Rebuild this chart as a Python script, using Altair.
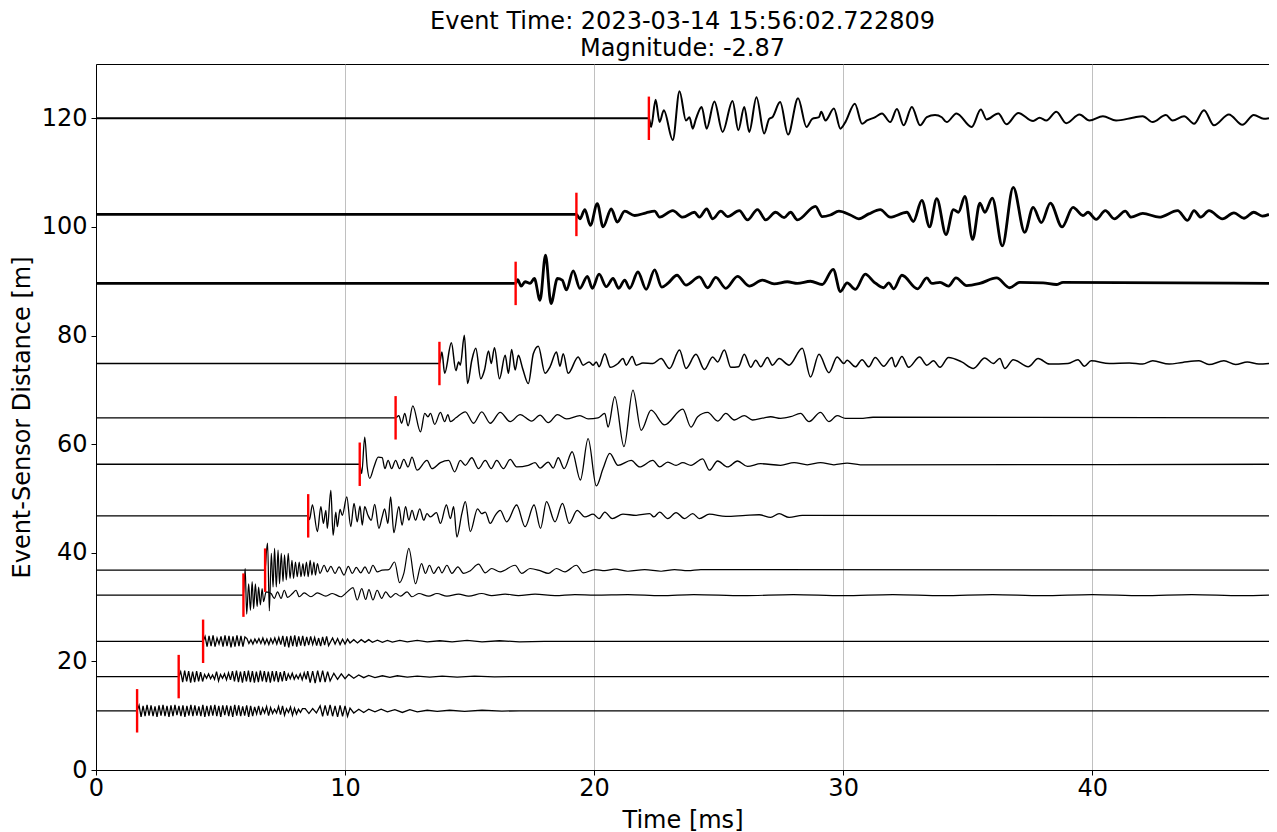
import altair as alt
import pandas as pd

TITLE = ["Event Time: 2023-03-14 15:56:02.722809", "Magnitude: -2.87"]
X_TICKS = [0, 10, 20, 30, 40]
Y_TICKS = [0, 20, 40, 60, 80, 100, 120]
T_END = 47.1
PICK_HALF = 4.0

distances = [120.0, 102.3, 89.6, 74.85, 64.85, 56.3, 46.8, 36.8, 32.2, 23.7, 17.2, 10.9]
picks = [22.20, 19.29, 16.85, 13.79, 12.03, 10.59, 8.52, 6.79, 5.92, 4.30, 3.32, 1.65]
line_widths = [2.0, 2.8, 2.8, 1.5, 1.3, 1.3, 1.3, 1.2, 1.2, 1.3, 1.3, 1.3]
smooth = [True, True, True, True, True, True, True, True, True, False, False, False]

# (time ms, amplitude offset m) extrema
tr120 = [(22.29,-1.6),(22.47,3.4),(22.63,-0.7),(22.80,1.5),(23.16,-4.0),(23.43,5.0),(23.69,-0.4),(23.83,0.2),
         (23.96,-1.9),(24.09,-0.1),(24.32,2.1),(24.52,-1.9),(24.83,3.1),(25.16,-2.5),(25.56,3.2),(25.79,-2.2),
         (26.03,2.1),(26.23,-2.5),(26.52,3.9),(26.83,-2.8),(27.03,-0.1),(27.16,0.2),(27.47,3.0),(27.79,-3.0),
         (28.19,3.7),(28.53,-1.6),(28.76,-0.1),(29.03,0.2),(29.12,1.2),(29.29,-0.4),(29.63,1.8),(29.89,-1.9),
         (30.09,-0.7),(30.47,2.7),(30.76,-1.0),(30.96,-0.4),(31.29,0.2),(31.56,0.9),(31.89,-0.7),(32.16,1.7),
         (32.43,-1.3),(32.76,2.1),(33.09,-1.3),(33.36,0.2),(33.69,0.6),(33.96,0.2),(34.16,-0.7),(34.55,0.9),
         (35.16,-1.6),(35.53,1.6),(35.76,-0.2),(36.23,0.9),(36.56,-1.1),(37.03,1.0),(37.63,-0.5),(37.89,0.1),
         (38.16,-0.4),(38.56,1.2),(38.96,-0.9),(39.49,0.7),(39.89,-0.4),(40.43,0.4),(40.96,-0.4),(41.63,0.1),
         (42.03,0.4),(42.43,-0.7),(42.96,0.6),(43.23,-0.4),(43.69,0.4),(44.09,-1.0),(44.49,1.5),(44.89,-1.3),
         (45.49,0.7),(46.03,-1.2),(46.49,0.6),(46.89,-0.1)]

tr102 = [(19.43,-0.8),(19.63,0.9),(19.85,-2.0),(20.13,2.0),(20.36,-2.3),(20.69,1.0),(20.93,-1.4),(21.23,0.6),
         (21.63,-0.2),(22.09,0.3),(22.43,0.6),(22.63,-0.5),(23.16,0.7),(23.56,-0.5),(24.03,0.4),(24.23,-0.5),
         (24.52,1.0),(24.76,-0.8),(25.09,0.6),(25.36,-0.4),(25.83,0.7),(26.16,-1.0),(26.56,0.9),(26.89,-1.0),
         (27.29,0.4),(27.63,-0.6),(27.89,0.4),(28.16,-1.0),(28.89,1.5),(29.16,-0.4),(29.49,-0.1),(29.83,0.6),
         (30.29,-0.1),(30.63,-0.8),(31.03,0.1),(31.49,0.9),(31.89,-0.5),(32.56,0.4),(32.82,-1.3),(33.16,2.6),
         (33.47,-2.3),(33.76,2.9),(34.13,-3.7),(34.43,0.9),(34.63,0.4),(34.89,3.3),(35.20,-4.6),(35.49,2.1),
         (35.69,0.4),(35.99,3.0),(36.39,-5.8),(36.83,5.0),(37.29,-3.3),(37.63,1.3),(37.96,-1.5),(38.32,2.1),
         (38.79,-2.3),(39.23,1.3),(39.63,-0.2),(39.83,0.4),(40.16,-0.9),(40.53,0.7),(40.89,-0.8),(41.33,0.6),
         (41.56,-0.5),(42.03,0.2),(42.69,-0.5),(43.43,0.7),(43.83,-1.1),(44.09,0.7),(44.36,-0.5),(44.69,0.7),
         (45.23,-0.8),(45.69,0.3),(46.09,-0.7),(46.49,0.4),(46.83,-0.3)]

tr89 = [(16.93,0.7),(17.07,-0.5),(17.23,0.3),(17.43,0.0),(17.60,0.9),(17.83,-3.1),(18.05,5.2),(18.27,-3.7),
        (18.53,0.9),(18.72,0.6),(18.89,-1.2),(19.16,2.3),(19.43,-0.9),(19.73,1.3),(19.93,-0.9),(20.20,1.7),
        (20.49,-0.6),(20.76,0.9),(20.99,-0.9),(21.23,0.6),(21.43,-0.9),(21.76,2.1),(22.09,-1.1),(22.43,2.5),
        (22.72,-0.7),(22.96,0.0),(23.33,1.5),(23.69,-0.3),(24.23,1.2),(24.56,-0.8),(24.89,1.1),(25.29,-0.9),
        (25.76,1.3),(26.23,-0.5),(26.76,0.6),(27.23,-0.1),(27.76,0.3),(28.16,0.0),(28.69,0.4),(29.16,-0.2),
        (29.60,2.6),(29.89,-1.5),(30.16,0.1),(30.49,-1.1),(30.89,1.7),(31.23,0.3),(31.63,-0.8),(31.83,0.1),
        (32.03,-1.0),(32.36,1.5),(32.99,-1.0),(33.36,1.0),(33.56,0.0),(33.89,0.2),(34.23,-0.5),(34.53,1.0),
        (34.96,-0.4),(35.49,0.0),(36.16,1.0),(36.69,-0.8),(37.09,0.2),(38.03,0.1),(38.56,-0.2),(38.83,0.2)]

tr75 = [(13.89,2.1),(14.00,-1.8),(14.27,3.8),(14.45,-1.3),(14.56,0.3),(14.63,-0.3),(14.79,5.2),(14.92,-3.7),
        (15.09,0.6),(15.25,2.8),(15.45,-2.8),(15.60,-1.2),(15.76,2.3),(15.87,0.0),(16.00,2.9),(16.20,-2.8),
        (16.43,1.5),(16.56,-1.8),(16.69,2.6),(16.83,-1.2),(16.96,1.5),(17.13,-0.9),(17.36,-3.7),(17.56,1.8),
        (17.76,3.2),(18.03,-1.8),(18.23,-0.6),(18.49,2.1),(18.63,-0.5),(18.76,1.8),(18.96,-1.8),(19.36,1.2),
        (19.56,-0.3),(19.80,0.3),(19.96,-0.3),(20.09,0.3),(20.20,-0.6),(20.43,1.8),(20.65,-0.7),(20.96,0.0),
        (21.16,0.9),(21.29,-0.3),(21.53,1.3),(21.69,-0.3),(21.96,0.1),(22.36,0.0),(22.69,0.9),(23.03,-0.9),
        (23.43,2.5),(23.69,-0.9),(24.09,1.7),(24.43,-1.1),(24.76,1.2),(24.96,0.3),(25.23,2.5),(25.49,-0.7),
        (25.80,-0.6),(26.03,1.7),(26.29,-0.7),(26.49,0.6),(26.69,-0.6),(26.96,1.1),(27.16,-0.3),(27.43,0.9),
        (27.83,-0.3),(28.36,2.8),(28.69,-2.5),(29.03,1.7),(29.43,-1.7),(29.76,1.2),(30.03,0.0),(30.16,0.6),
        (30.49,-0.6),(30.76,0.7),(31.03,-0.6),(31.29,1.1),(31.63,-0.5),(31.96,1.1),(32.09,-0.6),(32.36,1.3),
        (32.63,-0.7),(33.07,1.2),(33.36,-0.3),(33.63,0.5),(33.89,-0.7),(34.23,1.1),(34.76,0.3),(35.23,-0.9),
        (35.69,1.0),(36.03,0.0),(36.29,0.9),(36.49,-0.9),(36.83,0.7),(37.43,-0.6),(37.83,0.9),(38.29,-0.1),
        (39.03,0.0),(39.43,0.7),(39.69,-0.5),(39.96,0.5),(40.69,0.0),(41.49,0.1),(42.03,-0.1),(42.43,0.5),
        (43.09,-0.1),(43.63,0.2),(44.29,0.5),(44.69,-0.2),(45.29,0.5),(45.76,-0.2),(46.23,0.3),(46.69,-0.1)]

tr65 = [(12.16,0.4),(12.27,-1.0),(12.40,0.8),(12.53,-1.5),(12.72,2.2),(13.03,-2.6),(13.20,0.8),(13.33,0.2),
        (13.43,0.8),(13.60,-1.2),(13.83,1.0),(14.00,-0.7),(14.13,0.6),(14.23,-0.7),(14.45,0.0),(14.83,1.1),
        (15.16,-1.0),(15.49,1.1),(15.83,-1.0),(16.23,1.0),(16.63,-0.7),(17.03,0.6),(17.49,-0.6),(17.83,0.5),
        (18.16,-0.9),(18.53,0.6),(18.89,-0.2),(19.43,0.4),(19.76,-0.2),(20.16,0.0),(20.43,0.8),(20.56,-1.7),
        (20.83,3.9),(21.20,-5.3),(21.56,5.1),(21.89,-2.3),(22.29,1.4),(22.83,-1.3),(23.56,1.6),(23.89,-1.7),
        (24.16,0.2),(24.56,1.0),(24.96,-0.6),(25.29,0.8),(25.63,-0.4),(26.03,0.4),(26.36,-0.4),(26.83,0.0),
        (27.09,0.2),(27.49,-0.1),(27.89,0.2),(28.29,0.8),(28.63,-0.7),(29.09,1.0),(29.43,-0.7),(29.76,0.4),
        (30.09,-0.1),(30.69,-0.1),(31.20,0.1)]

tr56 = [(10.67,-1.7),(10.79,5.0),(10.89,-0.5),(10.99,-2.6),(11.16,-0.5),(11.33,1.3),(11.49,1.2),(11.60,-0.8),
        (11.73,0.7),(11.87,-0.8),(12.03,0.7),(12.19,-0.8),(12.36,0.9),(12.53,-0.5),(12.69,1.3),(12.89,-1.1),
        (13.29,0.7),(13.49,-0.8),(13.83,0.3),(14.16,0.7),(14.40,-1.4),(14.63,0.7),(14.83,-0.2),(15.09,1.2),
        (15.36,-0.8),(15.63,0.7),(15.87,-0.8),(16.09,0.7),(16.36,-0.8),(16.63,0.9),(16.89,-0.5),(17.36,-0.2),
        (17.63,0.3),(17.83,-0.7),(18.16,0.4),(18.36,-0.7),(18.56,1.2),(18.80,-0.8),(19.12,2.3),(19.45,-2.9),
        (19.76,4.7),(20.09,-4.0),(20.36,-0.8),(20.63,2.0),(20.96,-0.2),(21.49,0.7),(21.83,-0.5),(22.36,0.7),
        (22.63,-0.5),(22.96,0.4),(23.29,-0.2),(23.56,0.3),(23.89,-0.2),(24.36,1.0),(24.63,-1.1),(24.96,0.6),
        (25.36,-0.5),(25.76,0.6),(26.16,-0.4),(26.69,0.1),(27.49,-0.2),(28.03,0.3),(28.56,-0.1),(29.09,0.3),
        (29.63,-0.1),(30.16,0.2),(30.69,-0.1)]

tr47 = [(8.57,-0.7),(8.69,2.0),(8.89,-2.9),(9.03,1.7),(9.13,-1.4),(9.23,1.0),(9.29,-2.3),(9.43,4.7),
        (9.52,-3.6),(9.63,0.7),(9.69,-2.0),(9.80,1.2),(9.89,0.1),(10.07,3.5),(10.23,-2.0),(10.36,2.3),
        (10.49,-1.1),(10.60,1.8),(10.69,-1.7),(10.79,1.7),(10.92,0.1),(11.05,-0.8),(11.19,2.1),(11.36,-2.3),
        (11.49,-0.2),(11.59,1.3),(11.72,-1.4),(11.83,3.5),(11.96,-3.1),(12.16,1.7),(12.29,-1.7),(12.43,1.7),
        (12.56,-0.8),(12.69,1.0),(12.83,-0.8),(13.00,1.3),(13.16,-0.8),(13.29,0.4),(13.43,-0.2),(13.67,0.6),
        (13.83,-1.4),(14.07,2.0),(14.23,-0.5),(14.36,1.7),(14.49,-3.9),(14.69,0.4),(14.83,2.6),(15.03,-2.9),
        (15.32,1.3),(15.49,0.4),(15.63,0.7),(15.83,-1.4),(16.03,0.1),(16.23,1.0),(16.49,-1.1),(16.89,2.0),
        (17.23,-2.0),(17.59,2.0),(17.85,-2.3),(18.09,2.6),(18.43,-1.1),(18.73,2.3),(19.00,-1.4),(19.32,1.0),
        (19.63,-0.2),(19.96,0.3),(20.20,-0.5),(20.43,0.7),(20.73,-0.5),(21.16,0.3),(21.69,0.1),(22.23,0.4),
        (22.40,-0.2),(22.63,0.7),(22.96,-0.5),(23.29,0.6),(23.63,-0.5),(23.96,0.4),(24.23,-0.5),(24.63,0.3),
        (25.29,-0.1),(26.09,0.1),(26.63,0.2),(27.09,-0.3),(27.43,0.4),(27.83,-0.3),(28.36,0.1)]

tr37 = [(6.85,3.7),(6.89,5.0),(6.96,-7.5),(7.04,3.1),(7.11,-3.1),(7.17,4.0),(7.24,-3.1),(7.31,3.7),
        (7.37,-2.5),(7.44,3.1),(7.51,-2.1),(7.57,2.8),(7.64,-1.8),(7.72,3.1),(7.79,-1.5),(7.87,1.8),
        (7.93,-1.5),(8.01,1.5),(8.08,-1.2),(8.16,1.5),(8.23,-1.2),(8.31,1.2),(8.37,-1.1),(8.45,1.5),
        (8.52,-1.2),(8.60,1.8),(8.67,-0.9),(8.75,1.5),(8.81,-0.9),(8.89,1.2),(8.99,-0.6),(9.16,0.9),
        (9.29,-0.3),(9.43,0.7),(9.60,-0.6),(9.76,0.6),(9.96,-0.9),(10.13,0.7),(10.29,-0.6),(10.45,0.5),
        (10.63,-0.5),(10.80,0.6),(10.96,-0.6),(11.12,0.9),(11.29,-0.3),(11.49,0.0),(11.76,0.1),(11.99,1.5),
        (12.19,-2.3),(12.36,-0.6),(12.56,4.0),(12.83,-2.5),(13.07,1.2),(13.23,-0.6),(13.39,0.9),(13.56,-0.6),
        (13.76,0.6),(13.89,-0.5),(14.09,0.9),(14.29,-0.6),(14.53,0.6),(14.76,-0.6),(15.03,-0.1),(15.36,1.1),
        (15.63,-0.5),(15.89,0.3),(16.23,-0.3),(16.83,0.9),(17.09,-0.6),(17.43,0.3),(17.83,-0.1),(18.16,-0.6),
        (18.49,0.3),(18.83,-0.3),(19.29,0.9),(19.56,-0.5),(20.03,0.1),(20.43,-0.1),(20.83,0.2),(21.36,-0.2),
        (22.03,0.1),(22.69,-0.2),(23.23,0.1),(23.76,-0.1),(24.29,0.1)]

tr32 = [(5.99,4.9),(6.05,-3.5),(6.13,2.1),(6.20,-2.8),(6.27,2.5),(6.33,-2.5),(6.40,2.1),(6.47,-2.1),
        (6.53,1.5),(6.60,-1.8),(6.67,1.2),(6.73,-1.2),(6.83,0.6),(7.03,0.3),(7.16,-0.6),(7.29,0.6),
        (7.43,-0.6),(7.56,0.9),(7.69,-0.4),(7.89,0.3),(8.03,0.9),(8.16,-0.3),(8.36,0.4),(8.63,-0.3),
        (8.89,0.4),(9.23,-0.2),(9.49,0.3),(9.83,-0.3),(10.09,0.6),(10.32,1.4),(10.49,-0.9),(10.67,1.2),
        (10.83,-0.8),(10.96,1.0),(11.12,-0.9),(11.29,0.9),(11.47,-0.6),(11.63,0.6),(11.83,-0.4),(12.03,0.3),
        (12.23,-0.2),(12.49,0.6),(12.69,-0.3),(12.96,0.3),(13.36,-0.2),(13.69,0.3),(14.09,-0.2),(14.56,0.2),
        (14.96,-0.2),(15.49,0.3),(15.89,-0.1),(16.43,0.2),(16.96,-0.1),(17.63,0.2),(18.43,-0.1),(19.23,0.1),
        (20.03,0.0),(21.36,0.1),(22.69,-0.1),(24.0,0.1),(26.0,-0.1),(28.0,0.1),(30.0,-0.1),(32.0,0.1),
        (34.0,-0.1),(36.0,0.1),(38.0,-0.1),(40.0,0.1),(42.0,-0.1),(44.0,0.1),(46.0,-0.1)]

# dense high-frequency bursts, one value every BURST_DT ms after the pick
BURST_DT = 0.08
burst24 = [0.9,-1.0,1.0,-0.9,1.1,-1.0,0.6,-0.5,0.9,-1.0,1.1,-0.9,1.0,-1.1,0.9,-1.0,1.1,-0.9,1.0,-1.0,0.8,
           0.5,-0.4,0.3,-0.5,0.4,-0.3,0.5,-0.4,0.6,-0.5,0.4,-0.6,0.5,-0.4,0.6,-0.5,0.7,-0.6,
           1.0,-1.0,0.9,-1.1,1.0,-0.9,1.1,-1.0,0.9,-0.8,1.0,-0.9,
           0.8,-0.7,0.9,-0.6,0.7,-0.8,0.6,-0.9,0.8,-0.7,0.9,-0.8]
tail24 = [(9.50,0.6),(9.60,-0.5),(9.70,0.5),(9.80,-0.6),(9.90,0.4),(10.00,-0.5),(10.10,0.4),(10.20,-0.3),
          (10.35,0.3),(10.50,-0.3),(10.65,0.3),(10.80,-0.2),(10.95,0.3),(11.10,-0.2),(11.30,0.2),(11.50,-0.2),
          (11.70,0.15),(11.90,-0.15),(12.20,0.15),(12.50,-0.1),(12.90,0.15),(13.30,-0.1),(13.80,0.1),
          (14.30,-0.1),(14.90,0.15),(15.50,-0.1),(16.20,0.1),(17.00,-0.1),(18.00,0.0)]

burst17 = [0.9,-1.0,1.1,-0.9,1.0,-1.1,0.9,-1.0,1.0,-0.9,0.8,-0.9,
           0.4,-0.3,0.5,-0.4,0.3,-0.5,0.9,-0.8,0.4,-0.3,0.5,-0.6,0.7,-0.6,
           1.0,-0.9,1.1,-1.0,0.9,-1.1,1.0,-0.9,1.1,-1.0,1.0,-1.1,0.9,-1.0,1.1,-0.9,1.0,-1.0,0.9,-1.1,
           1.0,-0.9,1.0,-1.0,0.8,-0.9,1.0,-0.8,
           0.5,-0.4,0.6,-0.5,0.3,-0.4,0.5,-0.6,0.7,-0.5]
tail17 = [(8.50,1.0),(8.60,-1.1),(8.70,1.0),(8.80,-1.2),(8.90,1.1),(9.00,-1.0),(9.10,1.1),(9.20,-1.0),
          (9.30,0.9),(9.40,-0.8),(9.55,0.6),(9.70,-0.5),(9.85,0.5),(10.00,-0.4),(10.15,0.4),(10.35,-0.3),
          (10.55,0.3),(10.75,-0.2),(10.95,0.2),(11.20,-0.2),(11.50,0.15),(11.80,-0.15),(12.10,0.15),
          (12.50,-0.1),(12.90,0.1),(13.40,-0.1),(13.90,0.1),(14.50,-0.1),(15.20,0.1),(16.00,-0.05),(17.00,0.0)]

burst11 = [1.0,-1.1,0.9,-1.0,1.1,-0.9,1.0,-1.0,0.8,-1.1,1.0,-0.9,1.1,-1.0,0.9,-1.1,1.0,-1.0,1.1,-0.8,
           0.9,-1.0,1.0,-1.1,0.9,-0.9,1.1,-1.0,1.0,-0.9,0.8,-1.0,1.1,-1.1,0.9,-1.0,1.0,-0.9,1.1,-1.0,
           0.9,-1.1,1.0,-0.8,1.0,-1.0,0.9,-1.1,1.1,-0.9,1.0,-1.0,0.8,-0.9,1.0,-1.1,0.9,-1.0,
           0.7,-0.6,0.9,-0.8,0.5,-0.4,0.8,-0.9,0.6,-0.5,0.3,-0.4,0.8,-0.7,0.9,-0.8,0.4,-0.3,0.7,-0.8,
           0.5,-0.6,0.3,-0.3,0.4]
tail11 = [(8.40,0.4),(8.55,-0.5),(8.70,0.4),(8.85,-0.4),(9.00,0.9),(9.10,-1.0),(9.20,1.0),(9.30,-0.9),
          (9.40,1.1),(9.50,-1.0),(9.60,0.9),(9.70,-1.1),(9.80,1.0),(9.90,-1.0),(10.00,0.9),(10.10,-1.0),
          (10.20,0.5),(10.35,-0.4),(10.55,0.3),(10.75,-0.3),(10.95,0.3),(11.20,-0.2),(11.45,0.3),(11.70,-0.2),
          (12.00,0.2),(12.30,-0.3),(12.60,0.2),(12.90,-0.2),(13.30,0.1),(13.70,-0.1),(14.20,0.1),(14.80,-0.1),
          (15.50,0.1),(16.30,-0.05),(17.00,0.0)]

bursts = [[], [], [], [], [], [], [], [], [], burst24, burst17, burst11]
extrema = [tr120, tr102, tr89, tr75, tr65, tr56, tr47, tr37, tr32, tail24, tail17, tail11]

rows = []
for k in range(len(distances)):
    base, pick = distances[k], picks[k]
    pts = [(0.0, 0.0), (pick, 0.0)]
    pts += [(pick + BURST_DT * (i + 1), a) for i, a in enumerate(bursts[k])]
    pts += extrema[k]
    pts.append((T_END, 0.0))
    pts.sort()
    for t, a in pts:
        rows.append({"trace": k, "t": t, "y": base + a, "w": line_widths[k], "smooth": smooth[k]})
df = pd.DataFrame(rows)

pick_df = pd.DataFrame({
    "t": picks,
    "lo": [d - PICK_HALF for d in distances],
    "hi": [d + PICK_HALF for d in distances],
})

FONT = "DejaVu Sans"
FS = 24
x_enc = alt.X("t:Q", scale=alt.Scale(domain=[0, T_END], nice=False, zero=False),
              axis=alt.Axis(values=X_TICKS, title="Time [ms]", grid=True, gridColor="#b0b0b0",
                            gridWidth=0.8, tickSize=5, labelPadding=1, titlePadding=8,
                            labelFlush=False, format="d"))
y_enc = alt.Y("y:Q", scale=alt.Scale(domain=[0, 130], nice=False, zero=False),
              axis=alt.Axis(values=Y_TICKS, title="Event-Sensor Distance [m]", grid=False,
                            tickSize=5, labelPadding=4, titlePadding=7, labelFlush=False))

base_chart = alt.Chart(df).encode(
    x=x_enc,
    y=y_enc,
    detail="trace:N",
    order="t:Q",
    strokeWidth=alt.StrokeWidth("w:Q", scale=None),
)
smooth_lines = base_chart.mark_line(color="black", clip=True, interpolate="monotone").transform_filter(
    alt.datum.smooth == True)
burst_lines = base_chart.mark_line(color="black", clip=True, interpolate="linear").transform_filter(
    alt.datum.smooth == False)

pick_marks = alt.Chart(pick_df).mark_rule(color="#ff0000", strokeWidth=2.4).encode(
    x=alt.X("t:Q"),
    y=alt.Y("lo:Q"),
    y2="hi:Q",
)

chart = alt.layer(smooth_lines, burst_lines, pick_marks).properties(
    width=1173,
    height=706,
    title=alt.TitleParams(text=TITLE, fontSize=FS, fontWeight="normal", font=FONT,
                          anchor="middle", lineHeight=27, offset=3, color="black"),
    autosize=alt.AutoSizeParams(type="none"),
    padding={"left": 88, "top": 56, "right": 0, "bottom": 62},
).configure_axis(
    labelFont=FONT, titleFont=FONT, labelFontSize=FS, titleFontSize=FS,
    labelColor="black", titleColor="black", titleFontWeight="normal",
    tickColor="black", domainColor="black", domainWidth=1,
).configure_view(stroke="black", strokeWidth=1)

chart.save("out.html", embed_options={"renderer": "svg", "actions": False})
